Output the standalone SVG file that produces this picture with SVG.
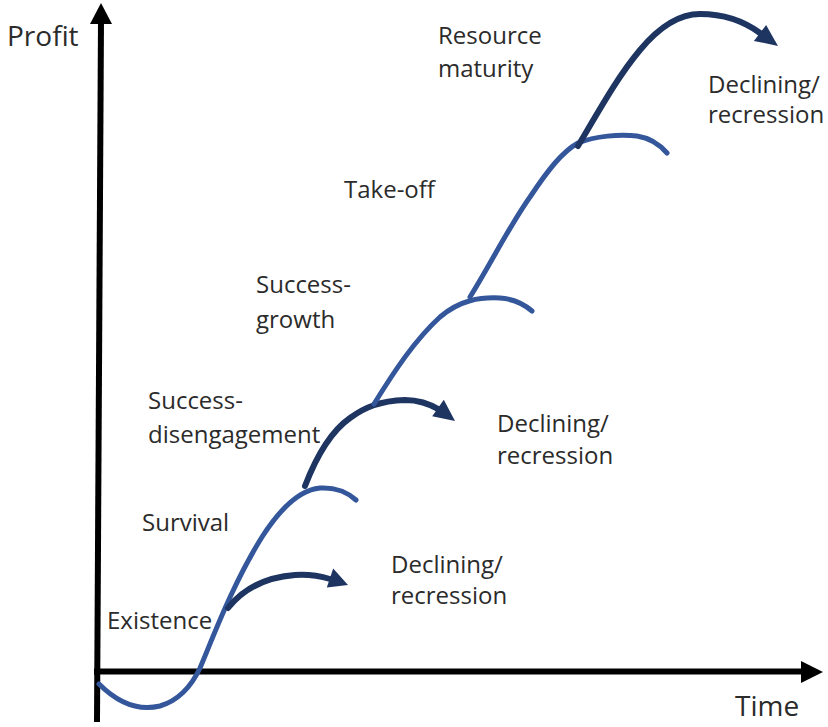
<svg xmlns="http://www.w3.org/2000/svg" width="828" height="727" viewBox="0 0 828 727">
  <style>
    .lbl { font-family: "Open Sans", "Noto Sans", sans-serif; font-size: 24px; fill: #2b2b2b; }
    .axlbl { font-family: "Open Sans", "Noto Sans", sans-serif; font-size: 28px; fill: #2b2b2b; }
    .axis { stroke: #000; stroke-width: 6; fill: none; }
    .stage { stroke: #34569b; stroke-width: 5; fill: none; stroke-linecap: round; }
    .decline { stroke: #1e3562; stroke-width: 6; fill: none; stroke-linecap: round; }
    .head { fill: #1e3562; }
  </style>
  <rect width="828" height="727" fill="#ffffff"/>

  <!-- axes -->
  <g id="axes">
    <line class="axis" x1="97" y1="722" x2="101" y2="20"/>
    <polygon points="101,3 112,24 90,24" fill="#000"/>
    <line class="axis" x1="94" y1="671.5" x2="805" y2="671.5"/>
    <polygon points="823,672 801,661 801,683" fill="#000"/>
    <text class="axlbl" x="7" y="46">Profit</text>
    <text class="axlbl" x="735" y="716">Time</text>
  </g>

  <!-- growth curves and decline arrows -->
  <g id="connectors">
    <path class="stage" d="M99,684 C115,700 135,712 160,706 C180,700 192,685 200,668 C212,640 232,585 262,537 C278,512 298,490 320,488 C338,487 348,493 356,500"/>
    <path class="decline" d="M228,608 C244,588 268,577 295,575 C310,574 320,576 330,579"/>
    <polygon class="head" points="348,585 326.8,587.5 333.2,568.5"/>

    <path class="decline" d="M305,486 C315,460 330,432 350,418 C365,407 380,401 405,400 C420,400 430,404 440,410"/>
    <polygon class="head" points="455,421 432.2,416.2 443.8,399.8"/>

    <path class="stage" d="M374,404 C395,370 415,340 440,317 C460,300 480,297 500,298 C515,299 525,305 532,311"/>

    <path class="stage" d="M470,297 C490,265 510,225 530,197 C548,170 562,152 578,143 C595,136 620,134 637,136 C650,138 660,145 667,153"/>

    <path class="decline" d="M578,146 C595,118 615,80 640,50 C660,26 680,14 700,14 C725,14 745,22 760,33"/>
    <polygon class="head" points="778,46 753.9,40.9 766.1,25.1"/>
  </g>

  <!-- stage labels -->
  <g id="existence"><text class="lbl" x="107" y="629">Existence</text></g>
  <g id="survival"><text class="lbl" x="142" y="531">Survival</text></g>
  <g id="success-disengagement"><text class="lbl" x="148" y="409">Success-</text><text class="lbl" x="148" y="443">disengagement</text></g>
  <g id="success-growth"><text class="lbl" x="256" y="293">Success-</text><text class="lbl" x="256" y="328">growth</text></g>
  <g id="take-off"><text class="lbl" x="344" y="198">Take-off</text></g>
  <g id="resource-maturity"><text class="lbl" x="438" y="44">Resource</text><text class="lbl" x="438" y="77">maturity</text></g>
  <g id="decline-1"><text class="lbl" x="391" y="573">Declining/</text><text class="lbl" x="391" y="604">recression</text></g>
  <g id="decline-2"><text class="lbl" x="497" y="432">Declining/</text><text class="lbl" x="497" y="464">recression</text></g>
  <g id="decline-3"><text class="lbl" x="708" y="93">Declining/</text><text class="lbl" x="708" y="123">recression</text></g>
</svg>
